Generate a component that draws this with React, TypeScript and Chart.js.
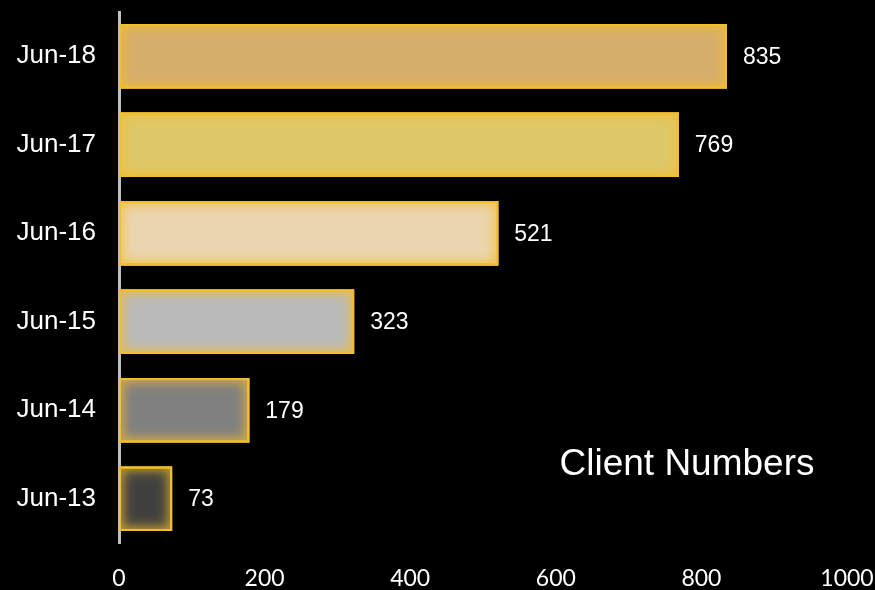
import React, { useEffect, useRef } from "react";
import { Chart, registerables } from "chart.js";

Chart.register(...registerables);

const categories = ["Jun-18", "Jun-17", "Jun-16", "Jun-15", "Jun-14", "Jun-13"];
const clientValues = [835, 769, 521, 323, 179, 73];
const barFills = ["#d6ae6c", "#dec86a", "#ead5b0", "#bababa", "#808080", "#404040"];
const xTicks = [0, 200, 400, 600, 800, 1000];
const chartTitle = "Client Numbers";

const glowPlugin = {
  id: "innerGlow",
  afterDatasetsDraw(chart: any) {
    const ctx = chart.ctx;
    const meta = chart.getDatasetMeta(0);
    meta.data.forEach((bar: any) => {
      const p = bar.getProps(["x", "y", "base", "height"], true);
      const left = Math.min(p.base, p.x);
      const right = Math.max(p.base, p.x);
      const top = p.y - p.height / 2;
      const h = p.height;
      const w = right - left;
      ctx.save();
      ctx.beginPath();
      ctx.rect(left, top, w, h);
      ctx.clip();
      ctx.strokeStyle = "rgba(242,190,45,1)";
      ctx.shadowColor = "rgba(242,190,45,1)";
      ctx.shadowBlur = 14;
      ctx.lineWidth = 4;
      ctx.strokeRect(left, top, w, h);
      ctx.shadowBlur = 8;
      ctx.strokeRect(left, top, w, h);
      ctx.restore();
    });
  },
};

const labelPlugin = {
  id: "valueLabels",
  afterDatasetsDraw(chart: any) {
    const ctx = chart.ctx;
    const meta = chart.getDatasetMeta(0);
    ctx.save();
    ctx.fillStyle = "#ffffff";
    ctx.font = "23px 'Liberation Sans', Arial, sans-serif";
    ctx.textAlign = "left";
    ctx.textBaseline = "middle";
    meta.data.forEach((bar: any, i: number) => {
      const p = bar.getProps(["x", "y"], true);
      ctx.fillText(String(clientValues[i]), p.x + 16, p.y + 1);
    });
    ctx.restore();
  },
};

const titlePlugin = {
  id: "cornerTitle",
  afterDraw(chart: any) {
    const ctx = chart.ctx;
    ctx.save();
    ctx.fillStyle = "#ffffff";
    ctx.font = "37px 'Liberation Sans', Arial, sans-serif";
    ctx.textAlign = "center";
    ctx.textBaseline = "alphabetic";
    ctx.fillText(chartTitle, 687, 475);
    ctx.restore();
  },
};

export default function App() {
  const ref = useRef<HTMLCanvasElement | null>(null);
  useEffect(() => {
    document.body.style.margin = "0";
    document.body.style.background = "#000";
    const chart = new Chart(ref.current!, {
      type: "bar",
      data: {
        labels: categories,
        datasets: [
          {
            data: clientValues,
            backgroundColor: barFills,
            borderWidth: 0,
            barPercentage: 0.728,
            categoryPercentage: 1,
          },
        ],
      },
      options: {
        indexAxis: "y",
        animation: false,
        responsive: false,
        devicePixelRatio: 1,
        layout: { padding: { top: 12, right: 28, left: 0, bottom: 0 } },
        plugins: { legend: { display: false }, tooltip: { enabled: false } },
        scales: {
          x: {
            min: 0,
            max: 1000,
            afterBuildTicks(scale: any) {
              scale.ticks = xTicks.map((v) => ({ value: v }));
            },
            afterFit(scale: any) {
              scale.height = 47;
              scale.paddingLeft = 0;
              scale.paddingRight = 0;
            },
            grid: { display: false, drawTicks: false },
            border: { display: false },
            ticks: {
              color: "#ffffff",
              padding: 22,
              maxRotation: 0,
              autoSkip: false,
              callback: (v: any) => String(v),
              font: { family: "Lato, 'Open Sans', sans-serif", size: 23 },
            },
          },
          y: {
            afterFit(scale: any) {
              scale.width = 119;
              scale.paddingTop = 0;
              scale.paddingBottom = 0;
            },
            grid: { display: false, drawTicks: false },
            border: { display: true, color: "#bfbfbf", width: 3 },
            ticks: {
              color: "#ffffff",
              padding: 23,
              font: { family: "'Liberation Sans', Arial, sans-serif", size: 26 },
            },
          },
        },
      },
      plugins: [glowPlugin, labelPlugin, titlePlugin],
    });
    return () => chart.destroy();
  }, []);
  return (
    <div style={{ position: "absolute", left: 0, top: 0, width: 875, height: 590, background: "#000" }}>
      <canvas ref={ref} width={875} height={590} style={{ display: "block" }} />
    </div>
  );
}
